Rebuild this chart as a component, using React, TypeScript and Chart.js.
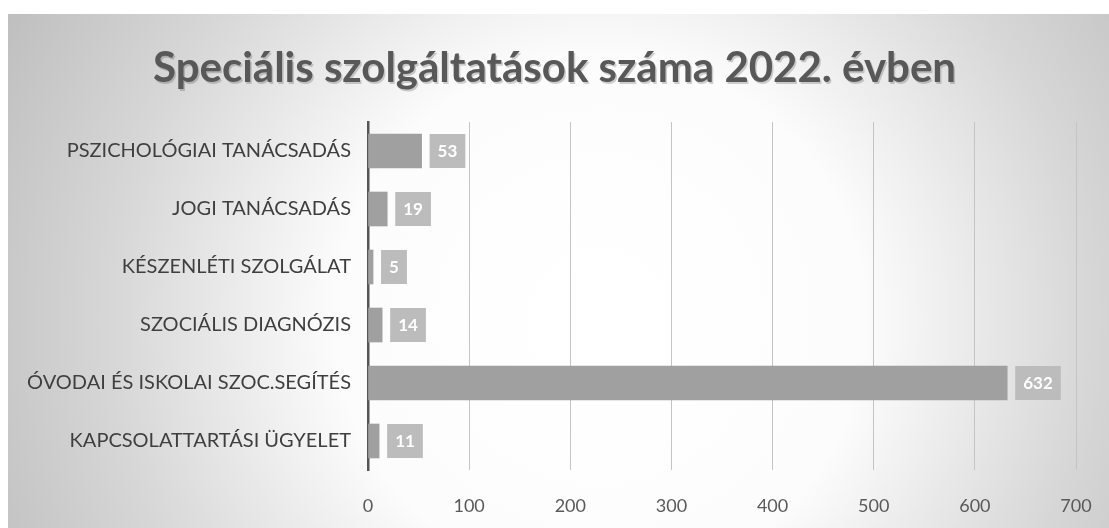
import React, { useEffect, useRef } from "react";
import { Chart, registerables } from "chart.js";

Chart.register(...registerables);

const categories = [
  "PSZICHOLÓGIAI TANÁCSADÁS",
  "JOGI TANÁCSADÁS",
  "KÉSZENLÉTI SZOLGÁLAT",
  "SZOCIÁLIS DIAGNÓZIS",
  "ÓVODAI ÉS ISKOLAI SZOC.SEGÍTÉS",
  "KAPCSOLATTARTÁSI ÜGYELET",
];
const values = [53, 19, 5, 14, 632, 11];
const title = "Speciális szolgáltatások száma 2022. évben";
const xMin = 0;
const xMax = 700;
const xStep = 100;

const FONT = "Lato, 'Open Sans', sans-serif";

const backgroundPlugin = {
  id: "bgPanel",
  beforeDraw(chart: any) {
    const { ctx, width, height } = chart;
    ctx.save();
    ctx.fillStyle = "#ffffff";
    ctx.fillRect(0, 0, width, height);
    const g = ctx.createRadialGradient(600, 320, 40, 600, 320, 680);
    g.addColorStop(0, "#ffffff");
    g.addColorStop(0.35, "#fcfcfc");
    g.addColorStop(0.7, "#d7d7d7");
    g.addColorStop(1, "#bdbdbd");
    ctx.fillStyle = g;
    ctx.fillRect(8, 14, width - 8, height - 14);
    ctx.restore();
  },
};

const titlePlugin = {
  id: "customTitle",
  afterDraw(chart: any) {
    const { ctx, width } = chart;
    ctx.save();
    ctx.font = `bold 42px ${FONT}`;
    ctx.textAlign = "center";
    ctx.textBaseline = "alphabetic";
    ctx.fillStyle = "rgba(0,0,0,0.18)";
    ctx.fillText(title, width / 2 + 1.5, 83.5);
    ctx.fillStyle = "#585858";
    ctx.fillText(title, width / 2, 82);
    ctx.restore();
  },
};

const labelPlugin = {
  id: "valueBoxes",
  afterDatasetsDraw(chart: any) {
    const { ctx } = chart;
    const meta = chart.getDatasetMeta(0);
    ctx.save();
    ctx.font = `bold 17px ${FONT}`;
    ctx.textBaseline = "middle";
    ctx.textAlign = "center";
    meta.data.forEach((bar: any, i: number) => {
      const txt = String(values[i]);
      const tw = ctx.measureText(txt).width;
      const w = tw + 16;
      const h = bar.height;
      const x0 = bar.x + 8;
      const y0 = bar.y - h / 2;
      ctx.fillStyle = "#bcbcbc";
      ctx.fillRect(x0, y0, w, h);
      ctx.fillStyle = "#ffffff";
      ctx.fillText(txt, x0 + w / 2, bar.y + 1);
    });
    ctx.restore();
  },
};

export default function App() {
  const ref = useRef<HTMLCanvasElement>(null);
  useEffect(() => {
    document.body.style.margin = "0";
    const chart = new Chart(ref.current!, {
      type: "bar",
      data: {
        labels: categories,
        datasets: [
          {
            data: values,
            backgroundColor: "#a0a0a0",
            barThickness: 34,
          },
        ],
      },
      plugins: [backgroundPlugin, titlePlugin, labelPlugin],
      options: {
        indexAxis: "y",
        animation: false,
        responsive: false,
        layout: { padding: { top: 122, right: 0, left: 0, bottom: 0 } },
        plugins: { legend: { display: false }, tooltip: { enabled: false }, title: { display: false } },
        scales: {
          x: {
            min: xMin,
            max: xMax,
            ticks: {
              stepSize: xStep,
              color: "#5a5a5a",
              font: { family: FONT, size: 18 },
              padding: 25,
            },
            grid: { color: "#c4c4c4", lineWidth: 1, drawTicks: false },
            border: { display: false },
            afterFit: (s: any) => {
              s.height = 58;
              s.paddingRight = 33;
            },
          },
          y: {
            ticks: {
              color: "#3f3f3f",
              font: { family: FONT, size: 20 },
              padding: 17,
            },
            grid: { display: false, drawTicks: false },
            border: { display: true, color: "#555555", width: 2.5 },
            afterFit: (s: any) => {
              s.width = 368;
            },
          },
        },
      },
    });
    return () => chart.destroy();
  }, []);
  return <canvas ref={ref} width={1109} height={528} style={{ display: "block" }} />;
}
